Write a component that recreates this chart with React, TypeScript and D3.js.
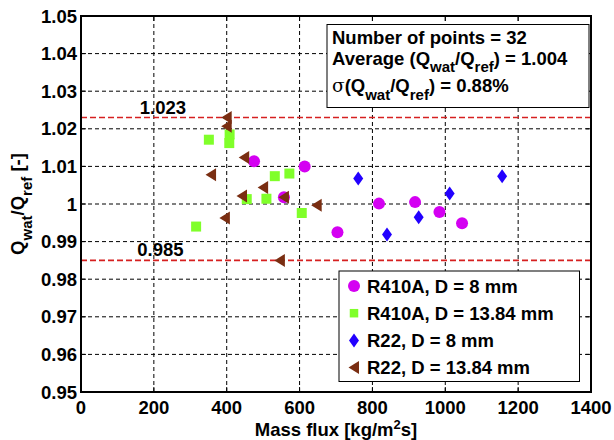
import React from "react";
import * as d3 from "d3";

const W = 614, H = 440;
const M = { left: 81, top: 16, right: 23, bottom: 48 };

const xTicks = [0, 200, 400, 600, 800, 1000, 1200, 1400];
const yTicks = [0.95, 0.96, 0.97, 0.98, 0.99, 1.0, 1.01, 1.02, 1.03, 1.04, 1.05];
const yTickLabels = ["0.95", "0.96", "0.97", "0.98", "0.99", "1", "1.01", "1.02", "1.03", "1.04", "1.05"];

const r410a8x = [614, 818, 917, 984, 1046, 704, 475, 557];
const r410a8y = [1.010, 1.0001, 1.0005, 0.9979, 0.9949, 0.9925, 1.0114, 1.0018];

const r410a13x = [351, 408, 407, 532, 572, 455, 509, 606, 316];
const r410a13y = [1.0171, 1.0185, 1.0162, 1.0074, 1.0081, 1.0013, 1.0014, 0.9976, 0.994];

const r22_8x = [761, 1012, 1156, 927, 840];
const r22_8y = [1.0068, 1.0028, 1.0074, 0.9965, 0.9919];

const r22_13x = [400, 400, 448, 357, 500, 442, 557, 647, 395, 546];
const r22_13y = [1.023, 1.0207, 1.0124, 1.0078, 1.0044, 1.0021, 1.0018, 0.9997, 0.9963, 0.985];

const limits = [1.023, 0.985];
const limitLabels = ["1.023", "0.985"];

const legendLabels = ["R410A, D = 8 mm", "R410A, D = 13.84 mm", "R22, D = 8 mm", "R22, D = 13.84 mm"];

const FONT = "'Liberation Sans', Arial, Helvetica, sans-serif";

const shapes: Record<string, string> = {
  circle: "M6,0A6,6 0 1,1 -6,0A6,6 0 1,1 6,0Z",
  square: "M-5,-5H5V5H-5Z",
  diamond: "M0,-7L5,0L0,7L-5,0Z",
  triangle: "M-5.5,0L5,-6.5L5,6.5Z",
};

const series = [
  { xs: r410a8x, ys: r410a8y, shape: "circle", color: "#d400f2", label: legendLabels[0] },
  { xs: r410a13x, ys: r410a13y, shape: "square", color: "#80ff2a", label: legendLabels[1] },
  { xs: r22_8x, ys: r22_8y, shape: "diamond", color: "#2200ff", label: legendLabels[2] },
  { xs: r22_13x, ys: r22_13y, shape: "triangle", color: "#7a2e12", label: legendLabels[3] },
];
const drawOrder = [1, 0, 2, 3];

export default function App() {
  const x = d3.scaleLinear().domain([0, 1400]).range([M.left, W - M.right]);
  const y = d3.scaleLinear().domain([0.95, 1.05]).range([H - M.bottom, M.top]);
  const x0 = M.left, x1 = W - M.right, y0 = H - M.bottom, y1 = M.top;
  const fs = 18.5;

  return (
    <svg width={W} height={H} style={{ position: "absolute", left: 0, top: 0, background: "#fff" }}
      fontFamily={FONT} fontWeight="bold">
      <rect x={0} y={0} width={W} height={H} fill="#fff" />
      {/* grid */}
      {xTicks.slice(1, -1).map((t) => (
        <line key={"gx" + t} x1={x(t)} x2={x(t)} y1={y0} y2={y1} stroke="#000" strokeWidth={1} strokeDasharray="4,3" />
      ))}
      {yTicks.slice(1, -1).map((t) => (
        <line key={"gy" + t} x1={x0} x2={x1} y1={y(t)} y2={y(t)} stroke="#000" strokeWidth={1} strokeDasharray="4,3" />
      ))}
      {/* limit lines */}
      {limits.map((v) => (
        <line key={"l" + v} x1={x0} x2={x1} y1={y(v)} y2={y(v)} stroke="#d62020" strokeWidth={1.6} strokeDasharray="6,3" />
      ))}
      <text x={x(225)} y={y(limits[0]) - 4} fontSize={fs} textAnchor="middle" fill="#000">{limitLabels[0]}</text>
      <text x={x(218)} y={y(limits[1]) - 4} fontSize={fs} textAnchor="middle" fill="#000">{limitLabels[1]}</text>
      {/* ticks */}
      {xTicks.map((t) => (
        <g key={"tx" + t}>
          <line x1={x(t)} x2={x(t)} y1={y0} y2={y0 - 5} stroke="#000" strokeWidth={1} />
          <line x1={x(t)} x2={x(t)} y1={y1} y2={y1 + 5} stroke="#000" strokeWidth={1} />
          <text x={x(t)} y={y0 + 22} fontSize={fs} textAnchor="middle">{t}</text>
        </g>
      ))}
      {yTicks.map((t, i) => (
        <g key={"ty" + t}>
          <line x1={x0} x2={x0 + 5} y1={y(t)} y2={y(t)} stroke="#000" strokeWidth={1} />
          <line x1={x1} x2={x1 - 5} y1={y(t)} y2={y(t)} stroke="#000" strokeWidth={1} />
          <text x={x0 - 4} y={y(t) + 6.5} fontSize={fs} textAnchor="end">{yTickLabels[i]}</text>
        </g>
      ))}
      {/* points */}
      {drawOrder.map((si) => {
        const s = series[si];
        return s.xs.map((xv, i) => (
          <path key={si + "-" + i} d={shapes[s.shape]} transform={`translate(${x(xv)},${y(s.ys[i])})`} fill={s.color} />
        ));
      })}
      {/* frame */}
      <rect x={x0} y={y1} width={x1 - x0} height={y0 - y1} fill="none" stroke="#000" strokeWidth={2} />
      {/* stats box */}
      <rect x={327} y={24.5} width={262} height={83} fill="#fff" stroke="#000" strokeWidth={1} />
      <text x={332} y={43.5} fontSize={fs}>Number of points = 32</text>
      <text x={332} y={64.5} fontSize={fs}>
        Average (Q<tspan dy={7} fontSize={15}>wat</tspan><tspan dy={-7}>/Q</tspan><tspan dy={7} fontSize={15}>ref</tspan><tspan dy={-7}>) = 1.004</tspan>
      </text>
      <text x={332} y={91.5} fontSize={fs}>
        <tspan fontFamily="'DejaVu Serif', serif" fontWeight="normal">σ</tspan>(Q<tspan dy={8} fontSize={15}>wat</tspan><tspan dy={-8}>/Q</tspan><tspan dy={8} fontSize={15}>ref</tspan><tspan dy={-8}>) = 0.88%</tspan>
      </text>
      {/* legend */}
      <rect x={339} y={271} width={240.5} height={110.5} fill="#fff" stroke="#000" strokeWidth={1} />
      {series.map((s, i) => (
        <g key={"lg" + i}>
          <path d={shapes[s.shape]} transform={`translate(354,${286 + i * 27.2}) scale(${s.shape === "square" ? 0.85 : 1})`} fill={s.color} />
          <text x={367} y={292.7 + i * 27.2} fontSize={fs}>{s.label}</text>
        </g>
      ))}
      {/* axis labels */}
      <text x={(x0 + x1) / 2} y={436} fontSize={fs} textAnchor="middle">
        Mass flux [kg/m<tspan dy={-7} fontSize={13}>2</tspan><tspan dy={7}>s]</tspan>
      </text>
      <text transform={`translate(24,${(y0 + y1) / 2}) rotate(-90)`} fontSize={fs} textAnchor="middle">
        Q<tspan dy={8} fontSize={15}>wat</tspan><tspan dy={-8}>/Q</tspan><tspan dy={8} fontSize={15}>ref</tspan><tspan dy={-8}> [-]</tspan>
      </text>
    </svg>
  );
}
